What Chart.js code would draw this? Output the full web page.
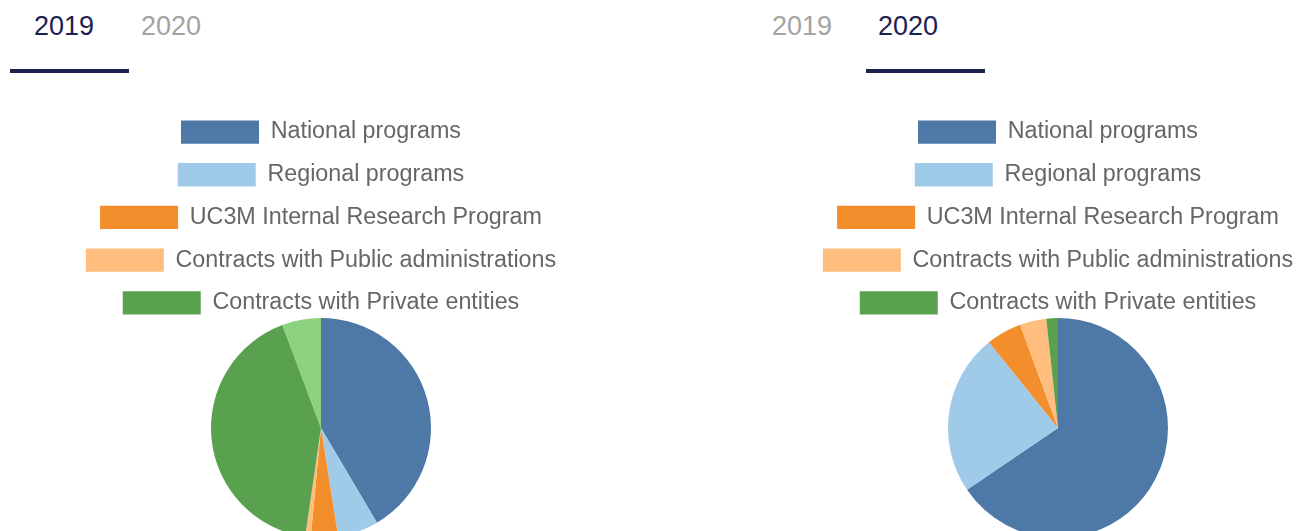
<!DOCTYPE html>
<html>
<head>
<meta charset="utf-8">
<script src="https://cdn.jsdelivr.net/npm/chart.js@4/dist/chart.umd.min.js"></script>
<style>
  html, body { margin: 0; padding: 0; background: #fff; width: 1297px; height: 531px; overflow: hidden; position: relative; }
  .tab { position: absolute; top: 13px; font-family: "Liberation Sans", Arial, sans-serif; font-size: 27px; line-height: 27px; white-space: nowrap; }
  .active { color: #1b2250; }
  .inactive { color: #a3a3a3; }
  .bar { position: absolute; top: 69px; height: 4px; background: #1b2250; }
  .wrap { position: absolute; top: 101px; width: 478px; height: 437px; }
</style>
</head>
<body>
<div class="tab active" style="left:34px">2019</div>
<div class="tab inactive" style="left:141px">2020</div>
<div class="bar" style="left:10px;width:119px"></div>

<div class="tab inactive" style="left:772px">2019</div>
<div class="tab active" style="left:878px">2020</div>
<div class="bar" style="left:866px;width:119px"></div>

<div class="wrap" style="left:82px"><canvas id="c2019" width="478" height="437"></canvas></div>
<div class="wrap" style="left:819px"><canvas id="c2020" width="478" height="437"></canvas></div>

<script>
const categories = [
  "National programs",
  "Regional programs",
  "UC3M Internal Research Program",
  "Contracts with Public administrations",
  "Contracts with Private entities"
];
const values2019 = [41.5, 6.0, 4.0, 0.8, 42.0, 5.7];
const values2020 = [65.5, 23.7, 5.2, 3.9, 1.7];
const sliceColors = ["#4E79A7", "#A0CBE8", "#F28E2B", "#FFBE7D", "#59A14F", "#8CD17D"];

const LEGEND_SHRINK = 1.5;
const legendShrink = {
  id: 'legendShrink',
  beforeLayout(chart) {
    const lg = chart.legend;
    if (lg && !lg.__patched) {
      const orig = lg.fit;
      lg.fit = function () { orig.call(this); this.height -= LEGEND_SHRINK; };
      lg.__patched = true;
    }
  }
};

function makePie(id, values) {
  new Chart(document.getElementById(id), {
    type: 'pie',
    data: {
      labels: categories,
      datasets: [{
        data: values,
        backgroundColor: sliceColors,
        borderWidth: 0,
        hoverOffset: 0
      }]
    },
    options: {
      responsive: false,
      animation: false,
      layout: { padding: 0 },
      plugins: {
        tooltip: { enabled: false },
        legend: {
          position: 'top',
          align: 'center',
          labels: {
            boxWidth: 78,
            boxHeight: 23.3,
            padding: 19.4,
            color: '#666',
            font: { family: '"Liberation Sans", Arial, sans-serif', size: 23.3 }
          }
        }
      }
    },
    plugins: [legendShrink]
  });
}
makePie('c2019', values2019);
makePie('c2020', values2020);
</script>
</body>
</html>
